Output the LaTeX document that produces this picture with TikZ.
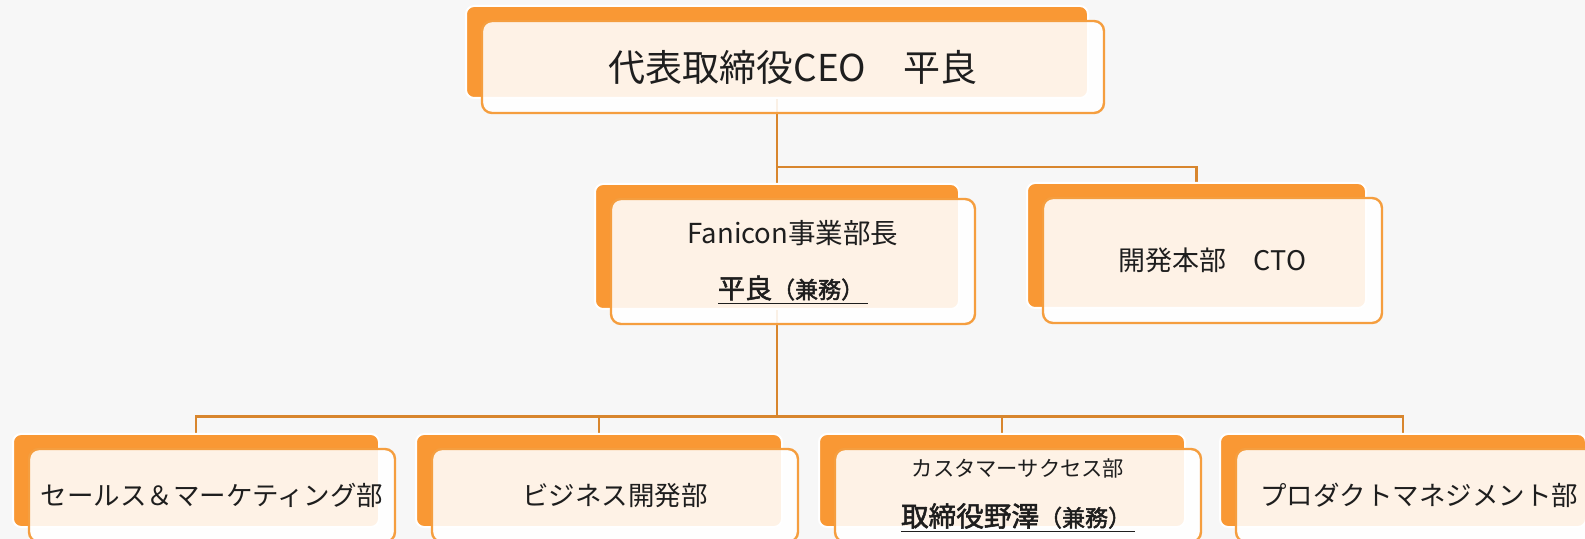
\documentclass[tikz,border=0pt]{standalone}
\usepackage{fontspec}
\setmainfont{Noto Sans CJK JP}[AutoFakeBold=2]
\usetikzlibrary{calc}
\definecolor{bgc}{HTML}{F7F7F7}
\definecolor{orng}{HTML}{F99834}
\definecolor{obrd}{HTML}{F59E3F}
\definecolor{conn}{HTML}{D8862E}
\definecolor{txt}{HTML}{1E1E1E}
\pgfdeclarelayer{canvas}
\pgfdeclarelayer{lines}
\pgfsetlayers{canvas,lines,main}
\tikzset{
  backbox/.style={draw=white, line width=1pt, fill=orng, rounded corners=4pt, inner sep=0pt},
  frontbox/.style={draw=obrd, line width=1.2pt, fill=white, fill opacity=0.88, text opacity=1,
    rounded corners=5pt, inner sep=0pt, text=txt, align=center},
  conline/.style={draw=conn, line width=1.4pt},
  lbl/.style={inner sep=0pt, text=txt, align=center},
  topsize/.style={minimum width=311pt, minimum height=46pt},
  midsize/.style={minimum width=182pt, minimum height=62.5pt},
  ctosize/.style={minimum width=169.5pt, minimum height=62.5pt},
  botsize/.style={minimum width=183pt, minimum height=46.5pt},
}
\newcommand{\fs}[1]{\fontsize{#1}{1.2\dimexpr#1\relax}\selectfont}
\begin{document}
\begin{tikzpicture}[x=0.5pt,y=-0.5pt]
\useasboundingbox (0,0) rectangle (1585,539);
\begin{pgfonlayer}{canvas}
\fill[bgc] (0,0) rectangle (1585,539);
\end{pgfonlayer}
\clip (0,0) rectangle (1585,539);

% back boxes
\node[backbox, topsize] (ceoB) at (777,52) {};
\node[backbox, midsize] (fanB) at (777,246.5) {};
\node[backbox, ctosize] (ctoB) at (1196.5,245.5) {};
\node[backbox, botsize] (s1B) at (196,480.5) {};
\node[backbox, botsize] (s2B) at (599,480.5) {};
\node[backbox, botsize] (s3B) at (1002,480.5) {};
\node[backbox, botsize] (s4B) at (1403,480.5) {};

% front boxes
\node[frontbox, topsize] (ceo) at (793,67) {\fs{18.5pt}代表取締役CEO　平良};
\node[frontbox, midsize] (fan) at (793,261.5) {};
\node[frontbox, ctosize] (cto) at (1212.5,260.5) {\fs{13.5pt}開発本部　CTO};
\node[frontbox, botsize] (s1) at (212,495.5) {\fs{13.25pt}セールス＆マーケティング部};
\node[frontbox, botsize] (s2) at (615,495.5) {\fs{13.25pt}ビジネス開発部};
\node[frontbox, botsize] (s3) at (1018,495.5) {};
\node[frontbox, botsize] (s4) at (1419,495.5) {\fs{13.25pt}プロダクトマネジメント部};

% two-line labels
\node[lbl] (fanT) at ($(fan.center)+(0,-28.5)$) {\fs{13.75pt}Fanicon事業部長};
\node[lbl] (fanN) at ($(fan.center)+(0,28.5)$) {\bfseries\underline{\fs{13.5pt}平良\fs{11.5pt}（兼務）\,}};
\node[lbl] (s3T) at ($(s3.center)+(0,-27.5)$) {\fs{10.65pt}カスタマーサクセス部};
\node[lbl] (s3N) at ($(s3.center)+(0,22.5)$) {\bfseries\underline{\fs{13.8pt}取締役野澤\fs{11.5pt}（兼務）\,}};

% connectors
\begin{pgfonlayer}{lines}
\coordinate (j1) at (777,167);
\coordinate (j2) at (777,416.5);
\draw[conline] (ceoB.south) -- (fanB.north);
\draw[conline] (j1) -| (ctoB.north);
\draw[conline] (fanB.south) -- (j2);
\draw[conline] (j2) -| (s1B.north);
\draw[conline] (j2) -| (s2B.north);
\draw[conline] (j2) -| (s3B.north);
\draw[conline] (j2) -| (s4B.north);
\end{pgfonlayer}
\end{tikzpicture}
\end{document}
